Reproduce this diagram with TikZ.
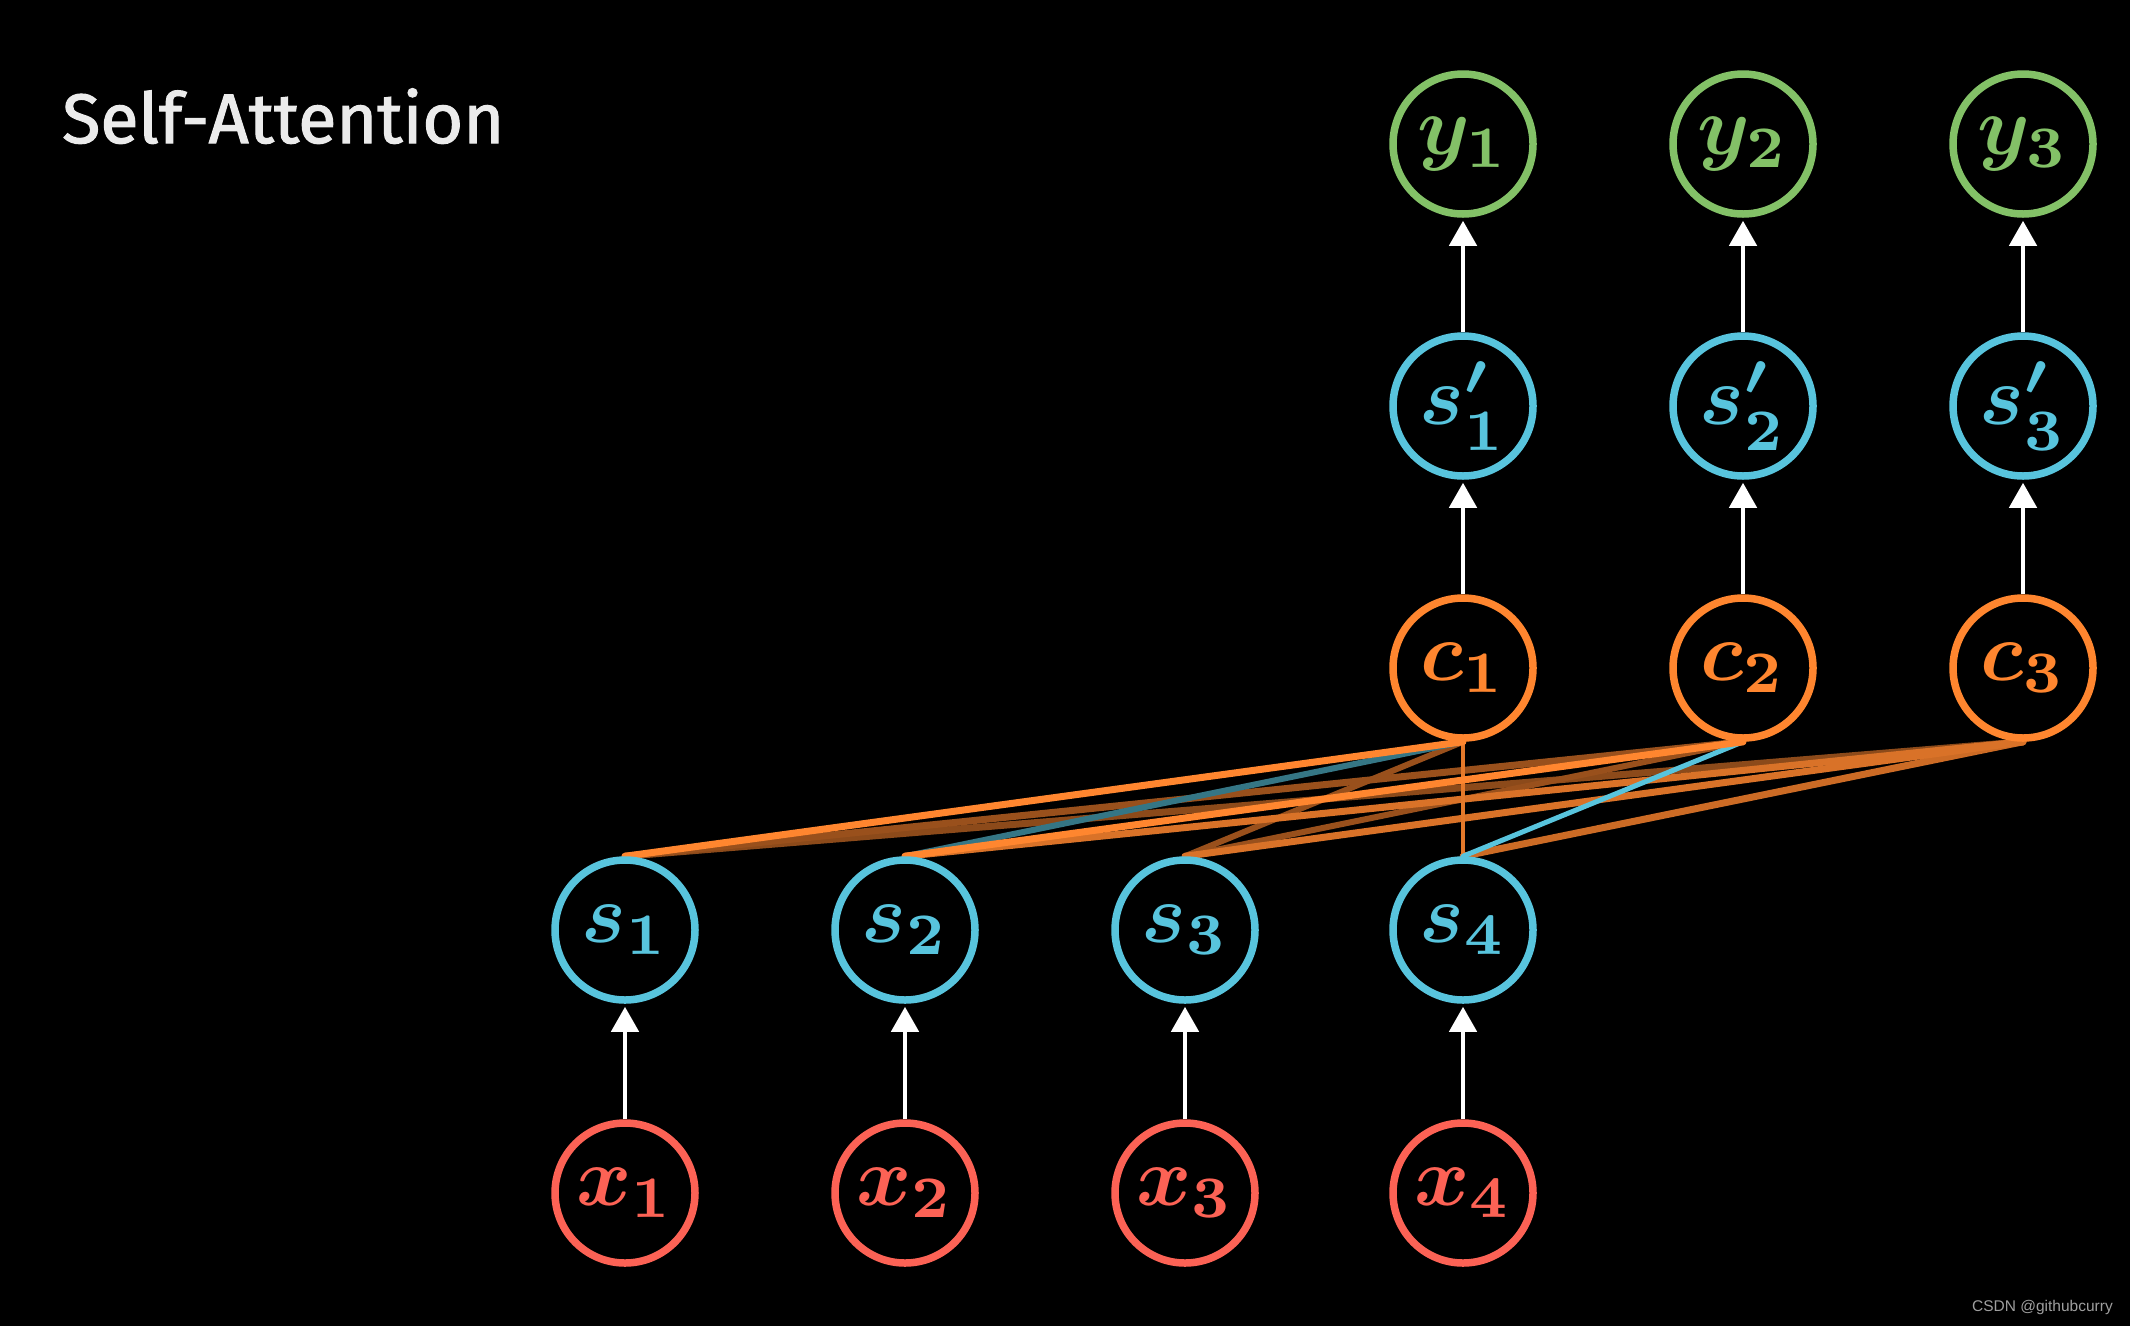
\documentclass[tikz,border=0pt]{standalone}
\usepackage{fontspec}
\newfontfamily\titlefont[FakeBold=1.6]{Fira Sans}
\newfontfamily\wmfont{Liberation Sans}
\usetikzlibrary{arrows.meta,backgrounds}
\definecolor{mred}{HTML}{FC6255}
\definecolor{mblue}{HTML}{58C4DD}
\definecolor{mgreen}{HTML}{83C167}
\definecolor{morange}{HTML}{FF862F}
\newcommand{\lbl}[1]{\scalebox{8.4}{\boldmath$#1$}}
\tikzset{
  nd/.style={circle, draw=#1, text=#1, line width=7.5pt, minimum size=140pt, inner sep=0pt},
  arr/.style={white, line width=4.5pt, -{Triangle[width=27pt,length=25pt]}, shorten >=3pt},
  att/.style={line width=#1, line cap=round},
}
\begin{document}
\begin{tikzpicture}[x=1pt,y=-1pt]
\useasboundingbox (0,0) rectangle (2130,1326);
\begin{scope}[on background layer]
\fill[black] (0,0) rectangle (2130,1326);
\end{scope}
% title and watermark
\node[anchor=base west, inner sep=0pt, text=white!92!black, font=\titlefont] (title) at (62,143) {\scalebox{7.0}{Self-Attention}};
\node[anchor=base east, inner sep=0pt, text=gray!75, font=\wmfont] (wm) at (2113,1311) {\scalebox{1.55}{CSDN @githubcurry}};
% x row
\node[nd=mred] (x1) at (625,1193) {\lbl{x_1}};
\node[nd=mred] (x2) at (905,1193) {\lbl{x_2}};
\node[nd=mred] (x3) at (1185,1193) {\lbl{x_3}};
\node[nd=mred] (x4) at (1463,1193) {\lbl{x_4}};
% s row
\node[nd=mblue] (s1) at (625,930) {\lbl{s_1}};
\node[nd=mblue] (s2) at (905,930) {\lbl{s_2}};
\node[nd=mblue] (s3) at (1185,930) {\lbl{s_3}};
\node[nd=mblue] (s4) at (1463,930) {\lbl{s_4}};
% c row
\node[nd=morange] (c1) at (1463,668) {\lbl{c_1}};
\node[nd=morange] (c2) at (1743,668) {\lbl{c_2}};
\node[nd=morange] (c3) at (2023,668) {\lbl{c_3}};
% s' row
\node[nd=mblue] (p1) at (1463,406) {\lbl{s'_1}};
\node[nd=mblue] (p2) at (1743,406) {\lbl{s'_2}};
\node[nd=mblue] (p3) at (2023,406) {\lbl{s'_3}};
% y row
\node[nd=mgreen] (y1) at (1463,144) {\lbl{y_1}};
\node[nd=mgreen] (y2) at (1743,144) {\lbl{y_2}};
\node[nd=mgreen] (y3) at (2023,144) {\lbl{y_3}};
% arrows
\draw[arr] (x1) -- (s1);
\draw[arr] (x2) -- (s2);
\draw[arr] (x3) -- (s3);
\draw[arr] (x4) -- (s4);
\draw[arr] (c1) -- (p1);
\draw[arr] (c2) -- (p2);
\draw[arr] (c3) -- (p3);
\draw[arr] (p1) -- (y1);
\draw[arr] (p2) -- (y2);
\draw[arr] (p3) -- (y3);
% attention connectors
\begin{scope}[on background layer]
\draw[att=7pt, morange!55!black] (c3.south) -- (s1.north);
\draw[att=7pt, morange!60!black] (c2.south) -- (s1.north);
\draw[att=6pt, morange!60!black] (c2.south) -- (s3.north);
\draw[att=6pt, morange!60!black] (c1.south) -- (s3.north);
\draw[att=6pt, mblue!60!black] (c1.south) -- (s2.north);
\draw[att=7pt, morange!80!black] (c3.south) -- (s4.north);
\draw[att=7pt, morange!85!black] (c3.south) -- (s3.north);
\draw[att=7pt, morange!85!black] (c3.south) -- (s2.north);
\draw[att=4pt, morange!90!black] (c1.south) -- (s4.north);
\draw[att=5pt, mblue] (c2.south) -- (s4.north);
\draw[att=7pt, morange] (c2.south) -- (s2.north);
\draw[att=7pt, morange] (c1.south) -- (s1.north);
\end{scope}
\end{tikzpicture}
\end{document}
